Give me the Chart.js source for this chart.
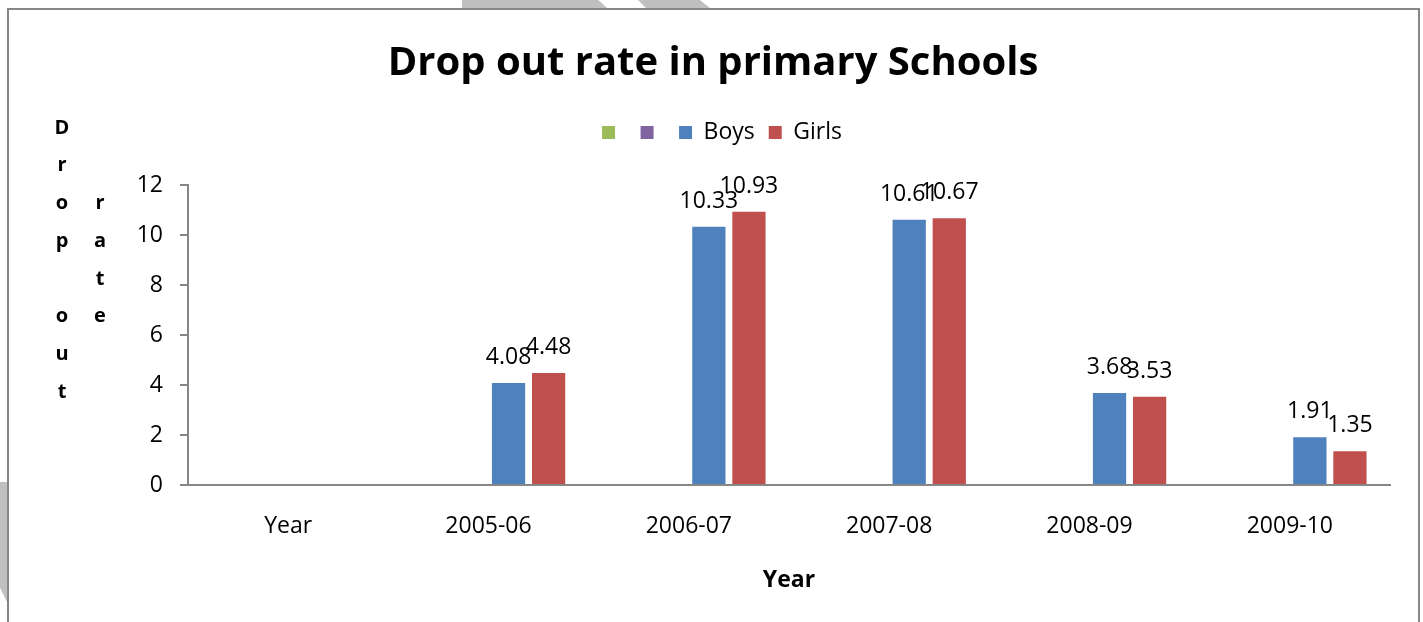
<!DOCTYPE html>
<html lang="en">
<head>
<meta charset="UTF-8">
<title>Drop out rate in primary Schools</title>
<script src="https://cdn.jsdelivr.net/npm/chart.js"></script>
<style>
  html, body { margin: 0; padding: 0; background: #fff; overflow: hidden; }
  #chart-container { position: absolute; left: 0; top: 0; width: 1423px; height: 622px; }
  #frame {
    position: absolute; left: 7px; top: 8px; width: 1413px; height: 700px;
    border: 2px solid #878787; box-sizing: border-box; pointer-events: none;
  }
  .shade { position: absolute; background: #c0c0c0; }
</style>
</head>
<body>
<!-- grey page shading peeking out around the chart frame -->
<div class="shade" style="left:462px; top:0; width:145px; height:8px; clip-path: polygon(0 0, 94% 0, 100% 100%, 0 100%);"></div>
<div class="shade" style="left:638px; top:0; width:72px; height:8px; clip-path: polygon(0 0, 86% 0, 100% 100%, 11% 100%);"></div>
<div class="shade" style="left:0; top:482px; width:7px; height:120px; clip-path: polygon(0 0, 100% 0, 100% 100%, 0 88%);"></div>

<div id="chart-container">
  <canvas id="chart"></canvas>
</div>
<div id="frame"></div>

<script>
const categories = ['Year', '2005-06', '2006-07', '2007-08', '2008-09', '2009-10'];
const boys  = [null, 4.08, 10.33, 10.61, 3.68, 1.91];
const girls = [null, 4.48, 10.93, 10.67, 3.53, 1.35];
// two unnamed series with no values, they only keep their legend entries and slots
const emptyA = [null, null, null, null, null, null];
const emptyB = [null, null, null, null, null, null];
const yTitleColumns = ['Drop out', 'rate'];

const FONT = '"Open Sans", sans-serif';

// value above each bar
const valueLabels = {
  id: 'valueLabels',
  afterDatasetsDraw(chart) {
    const ctx = chart.ctx;
    ctx.save();
    ctx.font = '23px ' + FONT;
    ctx.fillStyle = '#000';
    ctx.textAlign = 'center';
    ctx.textBaseline = 'alphabetic';
    chart.data.datasets.forEach((ds, i) => {
      chart.getDatasetMeta(i).data.forEach((bar, j) => {
        const v = ds.data[j];
        if (v == null) return;
        ctx.fillText(v.toFixed(2), bar.x, bar.y - 19);
      });
    });
    ctx.restore();
  }
};

// y axis title written as stacked letters, one column per line
const stackedTitle = {
  id: 'stackedTitle',
  afterDraw(chart) {
    const ctx = chart.ctx;
    const area = chart.chartArea;
    const rowH = 37.7;
    const midY = area.top + 75;
    ctx.save();
    ctx.font = 'bold 20px ' + FONT;
    ctx.fillStyle = '#000';
    ctx.textAlign = 'center';
    ctx.textBaseline = 'middle';
    yTitleColumns.forEach((col, c) => {
      const x = area.left - 126 + c * 38;
      const startY = midY - (col.length - 1) * rowH / 2;
      [...col].forEach((ch, r) => ctx.fillText(ch, x, startY + r * rowH));
    });
    ctx.restore();
  }
};

// shift a block's drawing sideways without touching the layout
function nudge(block, dx) {
  const draw = block.draw;
  block.draw = function () {
    this.ctx.save();
    this.ctx.translate(dx, 0);
    draw.call(this);
    this.ctx.restore();
  };
}

// title and legend: centred on the whole canvas, extra room under the legend
const headerTweak = {
  id: 'headerTweak',
  beforeInit(chart) {
    const legend = chart.legend;
    const fit = legend.fit;
    legend.fit = function () {
      fit.call(this);
      this.height += 31;
    };
    nudge(legend, 27);
    nudge(chart.titleBlock, 18);
  }
};

const ctx = document.getElementById('chart').getContext('2d');
new Chart(ctx, {
  type: 'bar',
  data: {
    labels: categories,
    datasets: [
      { label: '', data: emptyA, backgroundColor: '#9BBB59' },
      { label: '', data: emptyB, backgroundColor: '#8064A2' },
      { label: 'Boys', data: boys, backgroundColor: '#4F81BD' },
      { label: 'Girls', data: girls, backgroundColor: '#C0504D' }
    ]
  },
  options: {
    responsive: true,
    maintainAspectRatio: false,
    animation: false,
    categoryPercentage: 0.8,
    barPercentage: 0.83,
    layout: { padding: { left: 0, right: 33, top: 0, bottom: 0 } },
    plugins: {
      tooltip: { enabled: false },
      title: {
        display: true,
        text: 'Drop out rate in primary Schools',
        color: '#000',
        font: { family: FONT, size: 40, weight: 'bold' },
        padding: { top: 40, bottom: 19 }
      },
      legend: {
        position: 'top',
        labels: {
          color: '#000',
          font: { family: FONT, size: 23 },
          boxWidth: 13,
          boxHeight: 13,
          padding: 14
        }
      }
    },
    scales: {
      x: {
        grid: { display: false },
        border: { display: true, color: '#868686', width: 2 },
        ticks: { color: '#000', font: { family: FONT, size: 23 }, padding: 20 },
        title: {
          display: true,
          text: 'Year',
          color: '#000',
          font: { family: FONT, size: 23, weight: 'bold' },
          padding: { top: 0, bottom: 28 }
        },
        afterFit(scale) { scale.height = 137; }
      },
      y: {
        min: 0,
        max: 12,
        grid: { drawOnChartArea: false, drawTicks: true, tickLength: 8, color: '#868686', lineWidth: 2 },
        border: { display: true, color: '#868686', width: 2 },
        ticks: { stepSize: 2, color: '#000', font: { family: FONT, size: 23 }, padding: 17 },
        afterFit(scale) { scale.width = 188; }
      }
    }
  },
  plugins: [valueLabels, stackedTitle, headerTweak]
});
</script>
</body>
</html>
